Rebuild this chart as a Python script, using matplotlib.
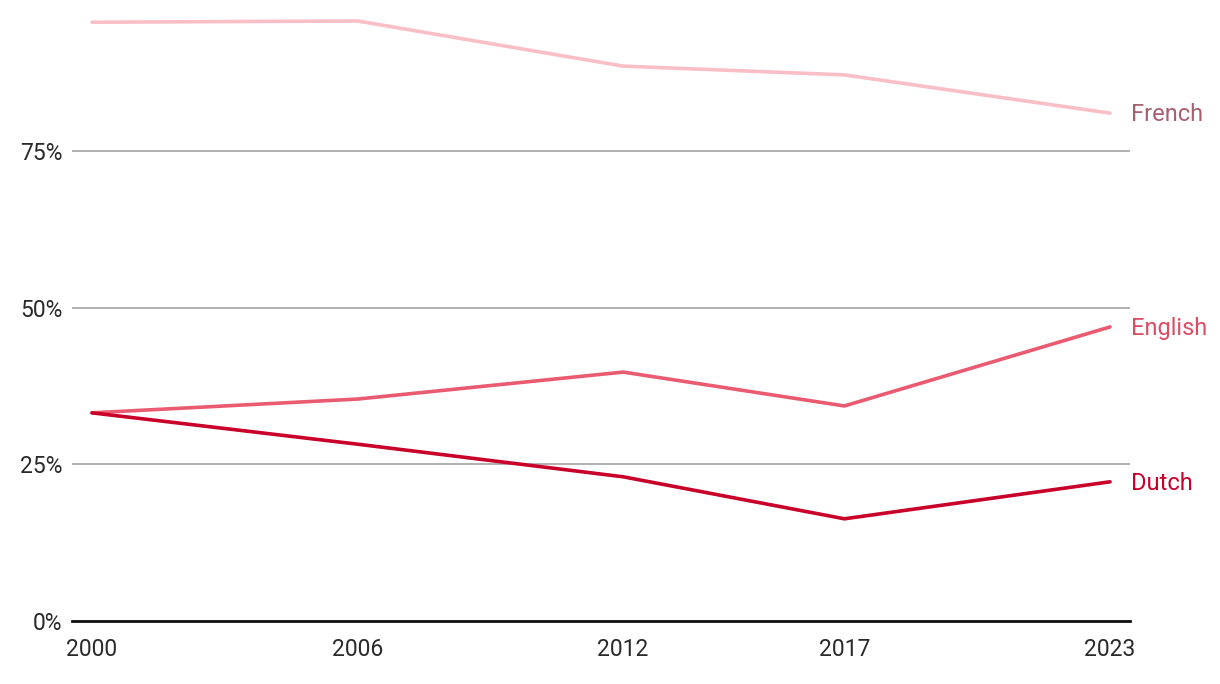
import matplotlib.pyplot as plt
from matplotlib.ticker import FuncFormatter

# data
years = [2000, 2006, 2012, 2017, 2023]
french = [95.5, 95.7, 88.5, 87.1, 81.0]
english = [33.2, 35.4, 39.7, 34.3, 46.9]
dutch = [33.2, 28.2, 23.0, 16.3, 22.2]

series = [
    ("French", french, "#f9bec6", "#a8606f"),
    ("English", english, "#ea5a70", "#dc4d64"),
    ("Dutch", dutch, "#c8002a", "#c8002a"),
]

plt.rcParams['font.family'] = ['Roboto', 'DejaVu Sans']

fig = plt.figure(figsize=(12.2, 6.84), dpi=100)
ax = fig.add_axes([72 / 1220, 63 / 684, 1058 / 1220, 611 / 684])

for name, vals, color, label_color in series:
    ax.plot(years, vals, color=color, linewidth=2.6, solid_capstyle='round', zorder=3)
    ax.annotate(name, xy=(years[-1], vals[-1]), xytext=(15, -1), textcoords='offset points',
                va='center', ha='left', fontsize=17, color=label_color,
                annotation_clip=False)

ax.set_xlim(1999.548, 2023.452)
ax.set_ylim(0, 97.45)
ax.set_xticks(years)
ax.set_yticks([0, 25, 50, 75])
ax.yaxis.set_major_formatter(FuncFormatter(lambda v, p: f"{int(v)}%"))
ax.tick_params(axis='both', length=0, labelsize=16.5, labelcolor='#2a2a2a')
ax.tick_params(axis='y', pad=7)
ax.tick_params(axis='x', pad=12)

ax.grid(axis='y', color='#aaaaaa', linewidth=1.3)
ax.set_axisbelow(True)
for side in ['top', 'right', 'left']:
    ax.spines[side].set_visible(False)
ax.spines['bottom'].set_color('#111111')
ax.spines['bottom'].set_linewidth(2)

fig.savefig('out.png', dpi=100)
